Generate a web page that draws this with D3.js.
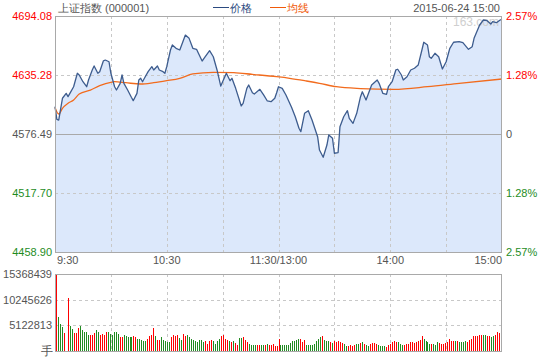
<!DOCTYPE html>
<html><head><meta charset="utf-8">
<script src="https://cdn.jsdelivr.net/npm/d3@7"></script>
<style>
body{margin:0;background:#fff;}
svg{display:block;font-family:"Liberation Sans",Arial,sans-serif;}
</style></head><body>
<svg id="c" width="540" height="360"></svg>
<script>
const title = "上证指数 (000001)";
const legendNames = ["价格", "均线"];
const dateText = "2015-06-24 15:00";
const watermark = "163.com";
const prevClose = 4576.49;
const priceTicks = [4694.08, 4635.28, 4576.49, 4517.70, 4458.90];
const timeLabels = ["9:30", "10:30", "11:30/13:00", "14:00", "15:00"];
const timeLabelMinutes = [0, 60, 120, 180, 240];
const volumeTicks = [15368439, 10245626, 5122813];
const volumeUnit = "手";

const priceMinutes = [0,1,2,4,6,7,8,10,12,13,15,17,18,20,21,23,24,26,27,29,30,32,33,35,36,37,39,41,42,44,45,46,47,48,50,52,53,55,56,58,59,60,62,63,65,67,70,72,74,76,77,79,80,83,85,87,89,90,92,94,95,97,100,101,103,104,106,107,110,112,114,116,118,119,120,122,124,127,129,131,132,134,136,138,141,142,144,146,147,149,150,152,153,155,157,158,160,162,164,165,167,170,173,174,176,178,179,181,183,184,186,187,189,191,193,195,197,198,200,201,202,204,206,208,210,212,214,217,219,222,224,225,228,230,232,234,235,237,239,240];
const priceValues = [4603.7,4591.1,4590.4,4612.1,4617.0,4613.7,4617.0,4623.6,4637.0,4635.3,4628.6,4623.6,4630.3,4640.3,4644.3,4637.0,4638.6,4649.5,4650.2,4648.5,4637.0,4623.6,4620.3,4627.0,4635.3,4627.0,4620.3,4613.1,4609.7,4617.0,4630.3,4632.0,4628.6,4632.0,4638.6,4643.6,4640.3,4644.3,4640.3,4638.6,4637.0,4643.6,4660.2,4665.2,4661.9,4660.2,4675.1,4671.8,4661.9,4660.9,4656.9,4649.2,4651.9,4659.5,4653.5,4640.3,4624.3,4628.6,4637.0,4629.6,4632.0,4622.0,4604.4,4607.1,4622.0,4625.3,4617.6,4616.3,4621.0,4615.4,4609.4,4608.7,4612.1,4617.6,4623.6,4622.0,4615.4,4603.1,4593.7,4582.2,4578.8,4597.1,4599.7,4590.4,4573.8,4560.5,4553.3,4565.5,4575.5,4572.2,4557.3,4558.0,4583.8,4593.7,4599.7,4592.1,4587.1,4597.1,4613.4,4618.6,4610.4,4625.3,4630.3,4627.0,4617.0,4616.0,4623.6,4628.6,4640.3,4641.0,4635.3,4630.3,4633.6,4640.3,4642.0,4645.2,4660.2,4667.9,4665.2,4653.5,4651.9,4656.9,4653.5,4641.3,4648.5,4661.9,4667.9,4668.5,4667.5,4660.9,4663.5,4671.8,4685.1,4690.1,4689.4,4686.1,4688.4,4687.4,4690.1,4690.8];

const avgMinutes = [0,2,4,7,10,13,19,24,30,32,38,46,53,60,67,74,85,96,106,119,126,135,142,151,164,182,200,217,240];
const avgValues = [4603.0,4596.4,4602.1,4607.1,4610.4,4616.3,4620.3,4624.6,4628.0,4628.6,4627.6,4626.3,4627.6,4629.6,4632.0,4636.3,4638.0,4637.6,4635.9,4633.6,4632.0,4629.3,4627.0,4623.6,4621.8,4621.0,4623.6,4627.0,4631.3];

// volume per bar, in millions of shares
const volumes = [15.368439,6.85,5.4,4.7,3.5,0,10.6,5.0,4.4,3.5,3.5,4.6,5.0,4.1,3.8,3.8,3.2,3.2,3.2,3.5,4.2,3.8,3.2,3.3,3.2,3.7,3.7,3.4,3.1,3.8,3.8,3.4,2.8,2.8,3.2,2.9,2.7,2.7,2.7,3.0,2.7,2.3,2.3,
2.2,1.9,2.0,2.4,2.9,3.1,4.5,2.9,2.2,2.2,2.7,2.2,1.9,1.7,1.7,2.7,3.1,2.9,3.1,2.5,2.1,3.4,2.9,3.1,2.7,2.4,2.1,1.9,1.7,2.2,2.1,1.7,1.9,1.4,1.9,2.2,1.9,1.4,1.9,2.4,2.9,3.1,2.4,2.2,1.9,1.7,1.9,1.5,1.2,2.5,2.5,2.7,2.2,1.7,1.4,1.2,1.2,1.1,1.2,1.2,1.2,1.1,1.1,1.3,1.1,1.2,1.3,0.9,0.9,2.4,1.1,1.1,1.1,1.1,1.2,1.5,1.9,1.9,2.2,2.4,
2.4,1.7,2.2,1.2,1.2,1.2,1.2,1.4,1.9,2.3,2.7,3.0,2.2,1.9,2.0,1.7,1.5,1.9,1.7,1.9,1.7,1.5,1.4,1.0,1.0,1.2,1.0,1.2,1.4,1.4,
1.5,1.7,1.4,1.1,1.0,1.3,1.5,1.5,1.4,1.2,1.0,1.0,0.9,0.7,1.1,1.3,1.7,1.9,1.7,1.7,1.4,1.2,1.2,1.3,1.4,1.7,1.7,1.5,1.7,2.0,2.2,3.0,2.4,2.0,1.7,1.3,1.4,1.3,1.2,1.7,1.5,1.3,1.3,1.5,1.7,2.3,2.0,2.0,2.0,1.9,1.7,1.7,1.7,1.9,1.7,2.2,2.4,2.9,3.0,3.0,3.2,3.1,3.2,3.2,3.0,2.9,2.7,2.9,3.2,3.7,3.5,0.2];
const volumeColors = ("RGGGRRRGGRRRGGGGGRRRGGRRRRGGGGGGRRGGGGGRRGG" +
  "GGGRRRRGRRGGGGGRRRRGGRRGGGGGGGGGRRRRGGGGRRRRGRGRRGGRRRGGGGRRGGRGRRRRRRGGGGGGGGGG" +
  "RRRGGGGGGGGRGGGRGRRRRRGGRRRRGG" +
  "RGRGGRRRRGGGGRRRRRRGGGRRRRRRRRRRGGGGRGGGRRRRRRRRGRGGGGRRRRRRRRGGRRGGRRRG").split("");

const L = 55, R = 502, T = 16, B = 252, VT = 274, VB = 351;
const gray = "#a9a9a9", grid = "#c8c8c8", red = "#ff0000", green = "#1e8c1e", textGray = "#555";

const svg = d3.select("#c");
const x = d3.scaleLinear().domain([0, 240]).range([L, R]);
const y = d3.scaleLinear().domain([priceTicks[4], priceTicks[0]]).range([B, T]);
const xv = d3.scaleLinear().domain([0, volumes.length - 1]).range([L + 1, R - 1]);
const yv = d3.scaleLinear().domain([0, volumeTicks[0] / 1e6]).range([VB, VT]);

const price = priceMinutes.map((m, i) => ({m, v: priceValues[i]}));
const avg = avgMinutes.map((m, i) => ({m, v: avgValues[i]}));

// area fill
svg.append("path").datum(price)
  .attr("d", d3.area().x(d => x(d.m)).y0(B).y1(d => y(d.v)))
  .attr("fill", "#dce8fb");

// grid main
const gridMins = d3.range(30, 240, 30);
svg.append("g").selectAll("line").data(gridMins).join("line")
  .attr("x1", d => Math.round(x(d)) + 0.5).attr("x2", d => Math.round(x(d)) + 0.5)
  .attr("y1", T).attr("y2", B)
  .attr("stroke", grid).attr("stroke-dasharray", "3,3");
svg.append("g").selectAll("line").data([priceTicks[1], priceTicks[3]]).join("line")
  .attr("x1", L).attr("x2", R)
  .attr("y1", d => Math.round(y(d)) + 0.5).attr("y2", d => Math.round(y(d)) + 0.5)
  .attr("stroke", grid).attr("stroke-dasharray", "3,3");
svg.append("line").attr("x1", L).attr("x2", R)
  .attr("y1", Math.round(y(prevClose)) + 0.5).attr("y2", Math.round(y(prevClose)) + 0.5)
  .attr("stroke", gray).attr("stroke-width", 1);

// watermark
svg.append("text").attr("x", 499).attr("y", 26).attr("text-anchor", "end")
  .attr("font-size", 12).attr("fill", "#cfcfcf").text(watermark);

// lines
svg.append("path").datum(avg)
  .attr("d", d3.line().x(d => x(d.m)).y(d => y(d.v)).curve(d3.curveMonotoneX))
  .attr("fill", "none").attr("stroke", "#f26b1d").attr("stroke-width", 1.3);
svg.append("path").datum(price)
  .attr("d", d3.line().x(d => x(d.m)).y(d => y(d.v)))
  .attr("fill", "none").attr("stroke", "#3d5c8e").attr("stroke-width", 1.3)
  .attr("stroke-linejoin", "round");

// border main
svg.append("rect").attr("x", L + 0.5).attr("y", T + 0.5).attr("width", R - L - 1).attr("height", B - T)
  .attr("fill", "none").attr("stroke", gray);

// left labels
const tickColor = v => v > prevClose + 0.001 ? red : (v < prevClose - 0.001 ? green : textGray);
svg.append("g").selectAll("text").data(priceTicks).join("text")
  .attr("x", 52).attr("y", d => y(d) + 4).attr("text-anchor", "end")
  .attr("font-size", 11).attr("fill", tickColor).text(d => d.toFixed(2));
// right labels
svg.append("g").selectAll("text").data(priceTicks).join("text")
  .attr("x", 506).attr("y", d => y(d) + 4)
  .attr("font-size", 11).attr("fill", tickColor)
  .text(d => Math.abs(d - prevClose) < 0.001 ? "0" : (Math.abs(d - prevClose) / prevClose * 100).toFixed(2) + "%");

// time labels
svg.append("g").selectAll("text").data(timeLabels).join("text")
  .attr("x", (d, i) => i === 0 ? L + 2 : (i === timeLabels.length - 1 ? R : x(timeLabelMinutes[i])))
  .attr("y", 264)
  .attr("text-anchor", (d, i) => i === 0 ? "start" : (i === timeLabels.length - 1 ? "end" : "middle"))
  .attr("font-size", 11).attr("fill", textGray).text(d => d);

// header
svg.append("text").attr("x", 58).attr("y", 11.5).attr("font-size", 11).attr("fill", textGray).text(title);
const legColors = ["#2b4a80", "#f05a0a"];
const legX = [213, 270];
legendNames.forEach((n, i) => {
  svg.append("line").attr("x1", legX[i]).attr("x2", legX[i] + 16).attr("y1", 7.5).attr("y2", 7.5)
    .attr("stroke", legColors[i]).attr("stroke-width", 1);
  svg.append("text").attr("x", legX[i] + 17).attr("y", 11.5).attr("font-size", 11)
    .attr("fill", legColors[i]).text(n);
});
svg.append("text").attr("x", 500).attr("y", 11.5).attr("text-anchor", "end")
  .attr("font-size", 11).attr("fill", textGray).text(dateText);

// volume grid
svg.append("g").selectAll("line").data(gridMins).join("line")
  .attr("x1", d => Math.round(x(d)) + 0.5).attr("x2", d => Math.round(x(d)) + 0.5)
  .attr("y1", VT).attr("y2", VB)
  .attr("stroke", grid).attr("stroke-dasharray", "3,3");
svg.append("g").selectAll("line").data(volumeTicks.slice(1)).join("line")
  .attr("x1", L).attr("x2", R)
  .attr("y1", d => Math.round(yv(d / 1e6)) + 0.5).attr("y2", d => Math.round(yv(d / 1e6)) + 0.5)
  .attr("stroke", grid).attr("stroke-dasharray", "3,3");

// volume bars
svg.append("g").attr("shape-rendering", "crispEdges").selectAll("rect").data(volumes).join("rect")
  .attr("x", (d, i) => Math.round(xv(i)))
  .attr("y", d => Math.round(yv(d)))
  .attr("width", 1)
  .attr("height", d => VB - Math.round(yv(d)))
  .attr("fill", (d, i) => volumeColors[i] === "R" ? red : "#228b22");

svg.append("rect").attr("x", L + 0.5).attr("y", VT + 0.5).attr("width", R - L - 1).attr("height", VB - VT)
  .attr("fill", "none").attr("stroke", gray);

svg.append("g").selectAll("text").data(volumeTicks).join("text")
  .attr("x", 52).attr("y", d => yv(d / 1e6) + 4).attr("text-anchor", "end")
  .attr("font-size", 11).attr("fill", textGray).text(d => d);
svg.append("text").attr("x", 53).attr("y", 355).attr("text-anchor", "end")
  .attr("font-size", 12).attr("fill", textGray).text(volumeUnit);
</script>
</body></html>
